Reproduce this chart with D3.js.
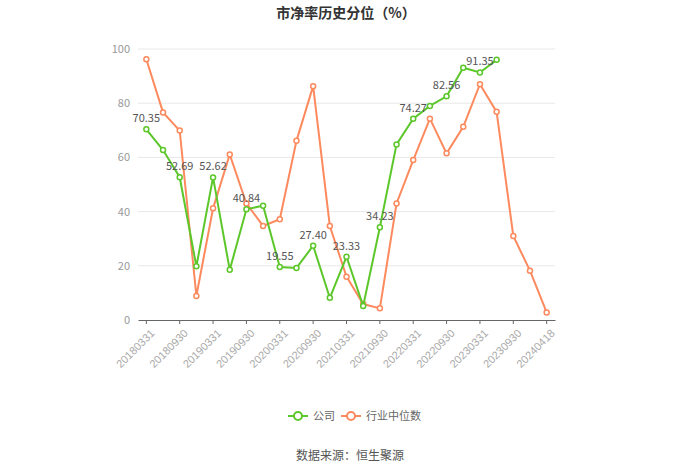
<!DOCTYPE html>
<html>
<head>
<meta charset="utf-8">
<script src="https://cdn.jsdelivr.net/npm/d3@7"></script>
<style>
  body { margin: 0; background: #fff; font-family: "Noto Sans CJK SC", "Noto Sans", sans-serif; }
</style>
</head>
<body>
<div id="chart"></div>
<script>
// Report dates on the x axis
var dates = ["20180331", "20180630", "20180930", "20181231", "20190331", "20190630",
  "20190930", "20191231", "20200331", "20200630", "20200930", "20201231",
  "20210331", "20210630", "20210930", "20211231", "20220331", "20220630",
  "20220930", "20221231", "20230331", "20230630", "20230930", "20231231", "20240418"];

// Company percentile (null where no value)
var company = [70.35, 62.7, 52.69, 19.8, 52.62, 18.5, 40.84, 42.2, 19.55, 19.2,
  27.40, 8.2, 23.33, 5.2, 34.23, 64.8, 74.27, 79.0, 82.56, 93.1, 91.35, 96.0,
  null, null, null];

// Industry median percentile
var industry = [96.2, 76.6, 69.9, 8.9, 41.2, 61.1, 43.0, 34.7, 37.2, 66.1,
  86.3, 34.7, 16.0, 5.9, 4.3, 43.0, 59.0, 74.3, 61.5, 71.3, 87.0, 76.8,
  31.0, 18.2, 2.8];

var yTicks = [0, 20, 40, 60, 80, 100];

var width = 700, height = 473;
var plotLeft = 138, plotRight = 555, plotTop = 49, plotBottom = 320;
var green = "#5cc72a", orange = "#fd8a5e";

var svg = d3.select("#chart").append("svg")
  .attr("width", width)
  .attr("height", height);

// Title
svg.append("text")
  .attr("x", 346).attr("y", 18)
  .attr("text-anchor", "middle")
  .attr("font-size", 14).attr("font-weight", "bold")
  .attr("fill", "#333")
  .text("市净率历史分位（%）");

var xScale = d3.scaleBand().domain(dates).range([plotLeft, plotRight]);
var yScale = d3.scaleLinear().domain([0, 100]).range([plotBottom, plotTop]);
function cx(d) { return xScale(d) + xScale.bandwidth() / 2; }

// Grid lines
svg.append("g").selectAll("line")
  .data(yTicks.slice(1))
  .enter().append("line")
  .attr("x1", plotLeft).attr("x2", plotRight)
  .attr("y1", function (d) { return yScale(d); })
  .attr("y2", function (d) { return yScale(d); })
  .attr("stroke", "#e8e8e8");

// Y axis labels
svg.append("g").selectAll("text")
  .data(yTicks)
  .enter().append("text")
  .attr("x", plotLeft - 8)
  .attr("y", function (d) { return yScale(d) + 4; })
  .attr("text-anchor", "end")
  .attr("font-size", 11).attr("fill", "#999")
  .text(function (d) { return d; });

// X axis
var xAxis = d3.axisBottom(xScale)
  .tickValues(dates.filter(function (d, i) { return i % 2 === 0; }))
  .tickSize(4).tickSizeOuter(0);
var gx = svg.append("g")
  .attr("transform", "translate(0," + plotBottom + ")")
  .call(xAxis);
gx.select(".domain").attr("stroke", "#666");
gx.selectAll(".tick line").attr("stroke", "#666");
gx.selectAll(".tick text")
  .attr("fill", "#aaa").attr("font-size", 11)
  .attr("text-anchor", "end")
  .attr("dx", "0").attr("dy", "0")
  .attr("transform", "translate(4,9) rotate(-45)");

// Draw a series
function drawSeries(values, color) {
  var pts = dates.map(function (d, i) { return { d: d, v: values[i], i: i }; })
    .filter(function (p) { return p.v !== null; });
  var line = d3.line()
    .x(function (p) { return cx(p.d); })
    .y(function (p) { return yScale(p.v); });
  svg.append("path")
    .datum(pts)
    .attr("fill", "none")
    .attr("stroke", color)
    .attr("stroke-width", 2)
    .attr("d", line);
  svg.append("g").selectAll("circle")
    .data(pts)
    .enter().append("circle")
    .attr("cx", function (p) { return cx(p.d); })
    .attr("cy", function (p) { return yScale(p.v); })
    .attr("r", 2.5)
    .attr("fill", "#fff")
    .attr("stroke", color)
    .attr("stroke-width", 1.5);
  return pts;
}

drawSeries(industry, orange);
var cpts = drawSeries(company, green);

// Value labels on company series
svg.append("g").selectAll("text")
  .data(cpts.filter(function (p) { return p.i % 2 === 0; }))
  .enter().append("text")
  .attr("x", function (p) { return cx(p.d); })
  .attr("y", function (p) { return yScale(p.v) - 7; })
  .attr("text-anchor", "middle")
  .attr("font-size", 11).attr("fill", "#555")
  .text(function (p) { return p.v.toFixed(2); });

// Legend
var legend = [{ name: "公司", color: green, x: 288 }, { name: "行业中位数", color: orange, x: 341 }];
var lg = svg.append("g").selectAll("g")
  .data(legend)
  .enter().append("g")
  .attr("transform", function (d) { return "translate(" + d.x + ",416)"; });
lg.append("line")
  .attr("x1", 0).attr("x2", 20)
  .attr("stroke", function (d) { return d.color; })
  .attr("stroke-width", 2);
lg.append("circle")
  .attr("cx", 10).attr("r", 4)
  .attr("fill", "#fff")
  .attr("stroke", function (d) { return d.color; })
  .attr("stroke-width", 2);
lg.append("text")
  .attr("x", 25).attr("y", 4)
  .attr("font-size", 11).attr("fill", "#666")
  .text(function (d) { return d.name; });

// Source
svg.append("text")
  .attr("x", 350).attr("y", 460)
  .attr("text-anchor", "middle")
  .attr("font-size", 12).attr("fill", "#555")
  .text("数据来源：恒生聚源");
</script>
</body>
</html>
